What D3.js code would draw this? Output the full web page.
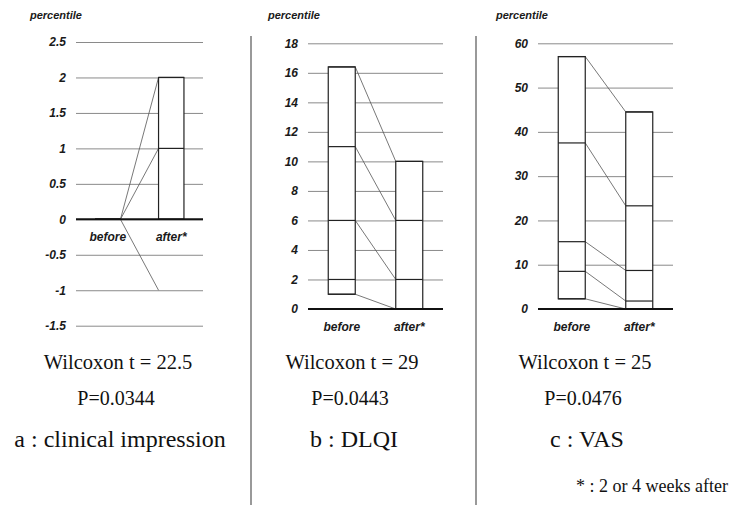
<!DOCTYPE html>
<html lang='en'>
<head>
<meta charset="utf-8">
<style>
body {
  margin: 0;
  background: #fff;
}
.tick text, .grp {
  font: italic bold 12px "Liberation Sans", Arial, sans-serif;
  fill: #1a1a1a;
}
.ylab {
  font: italic bold 11px "Liberation Sans", Arial, sans-serif;
  fill: #1a1a1a;
}
.tick line {
  stroke: #8a8a8a;
  stroke-width: 1px;
}
.note {
  font-family: "Liberation Serif", "Times New Roman", serif;
  fill: #111;
}
</style>
</head>
<body>
<svg width="731" height="505"></svg>

<script src="https://cdn.jsdelivr.net/npm/d3@7"></script>
<script>
  var groups = ["before", "after*"];

  var ticksA = [-1.5, -1, -0.5, 0, 0.5, 1, 1.5, 2, 2.5],
      ticksB = [0, 2, 4, 6, 8, 10, 12, 14, 16, 18],
      ticksC = [0, 10, 20, 30, 40, 50, 60];

  // percentile levels per group, and the lines joining them
  var beforeA = [0, 0, 0, 0, 0],
      afterA = [0, 1, 2],
      linksA = [[0, 2], [0, 1], [0, -1]];
  var beforeB = [1, 2, 6, 11, 16.4],
      afterB = [0, 2, 6, 10],
      linksB = [[16.4, 10], [11, 6], [6, 2], [1, 0]];
  var beforeC = [2.3, 8.5, 15.2, 37.5, 57],
      afterC = [0, 1.8, 8.7, 23.3, 44.5],
      linksC = [[57, 44.5], [37.5, 23.3], [15.2, 8.7], [8.5, 1.8], [2.3, 0]];

  var wilcoxonT = ["22.5", "29", "25"],
      pValues = ["0.0344", "0.0443", "0.0476"],
      titles = ["a : clinical impression", "b : DLQI", "c : VAS"];

  var panels = [
    {ticks: ticksA, before: beforeA, after: afterA, links: linksA},
    {ticks: ticksB, before: beforeB, after: afterB, links: linksB},
    {ticks: ticksC, before: beforeC, after: afterC, links: linksC}
  ];

  var layout = [
    {gx: [76, 203], gy: [325.7, 42], lx: 30, tx: 118},
    {gx: [308, 443], gy: [309, 43.3], lx: 268, tx: 352},
    {gx: [538, 673], gy: [309, 43.3], lx: 496, tx: 585}
  ];

  var svg = d3.select("svg");

  svg.append("rect").attr("width", 731).attr("height", 505).attr("fill", "#fff");

  // dividers between panels
  svg.selectAll("line.div")
    .data([251, 476])
    .enter().append("line")
      .attr("class", "div")
      .attr("x1", function(d) { return d; })
      .attr("x2", function(d) { return d; })
      .attr("y1", 36)
      .attr("y2", 505)
      .attr("stroke", "#777")
      .attr("stroke-width", 1.5);

  panels.forEach(function(p, i) {
    var L = layout[i],
        g = svg.append("g");

    var y = d3.scaleLinear()
        .domain(d3.extent(p.ticks))
        .range(L.gy);
    var x = d3.scaleBand()
        .domain(groups)
        .range(L.gx)
        .paddingInner(0.6)
        .paddingOuter(0.3);

    var axis = d3.axisLeft(y)
        .tickValues(p.ticks)
        .tickSize(-(L.gx[1] - L.gx[0]))
        .tickPadding(10)
        .tickFormat(function(d) { return String(d); });

    g.append("g")
        .attr("transform", "translate(" + L.gx[0] + ",0)")
        .call(axis)
        .call(function(a) { a.select(".domain").remove(); });

    g.append("text")
        .attr("class", "ylab")
        .attr("x", L.lx)
        .attr("y", 19)
        .text("percentile");

    // connecting lines
    g.selectAll("line.link")
      .data(p.links)
      .enter().append("line")
        .attr("x1", x("before") + x.bandwidth())
        .attr("x2", x("after*"))
        .attr("y1", function(d) { return y(d[0]); })
        .attr("y2", function(d) { return y(d[1]); })
        .attr("stroke", "#555")
        .attr("stroke-width", 0.8);

    [["before", p.before], ["after*", p.after]].forEach(function(b) {
      var vals = b[1],
          ext = d3.extent(vals),
          bx = x(b[0]);
      g.append("rect")
          .attr("x", bx)
          .attr("y", y(ext[1]))
          .attr("width", x.bandwidth())
          .attr("height", y(ext[0]) - y(ext[1]))
          .attr("fill", "#fff")
          .attr("stroke", "#222")
          .attr("stroke-width", 1.2);
      g.selectAll(null)
        .data(vals)
        .enter().append("line")
          .attr("x1", bx)
          .attr("x2", bx + x.bandwidth())
          .attr("y1", function(d) { return y(d); })
          .attr("y2", function(d) { return y(d); })
          .attr("stroke", "#222")
          .attr("stroke-width", 1.2);
    });

    // zero baseline
    g.append("line")
        .attr("x1", L.gx[0])
        .attr("x2", L.gx[1])
        .attr("y1", y(0))
        .attr("y2", y(0))
        .attr("stroke", "#111")
        .attr("stroke-width", 2);

    g.selectAll("text.grp")
      .data(groups)
      .enter().append("text")
        .attr("class", "grp")
        .attr("x", function(d) { return x(d) + x.bandwidth() / 2; })
        .attr("y", y(0) + 22)
        .attr("text-anchor", "middle")
        .text(function(d) { return d; });

    g.append("text")
        .attr("class", "note")
        .attr("x", L.tx)
        .attr("y", 369)
        .attr("text-anchor", "middle")
        .attr("font-size", 20.5)
        .text("Wilcoxon t = " + wilcoxonT[i]);
    g.append("text")
        .attr("class", "note")
        .attr("x", L.tx - 2)
        .attr("y", 405)
        .attr("text-anchor", "middle")
        .attr("font-size", 20)
        .text("P=" + pValues[i]);
    g.append("text")
        .attr("class", "note")
        .attr("x", L.tx + 2)
        .attr("y", 447)
        .attr("text-anchor", "middle")
        .attr("font-size", 24)
        .text(titles[i]);
  });

  svg.append("text")
      .attr("class", "note")
      .attr("x", 728)
      .attr("y", 492)
      .attr("text-anchor", "end")
      .attr("font-size", 18)
      .text("* : 2 or 4 weeks after");
</script>
</body>
</html>
